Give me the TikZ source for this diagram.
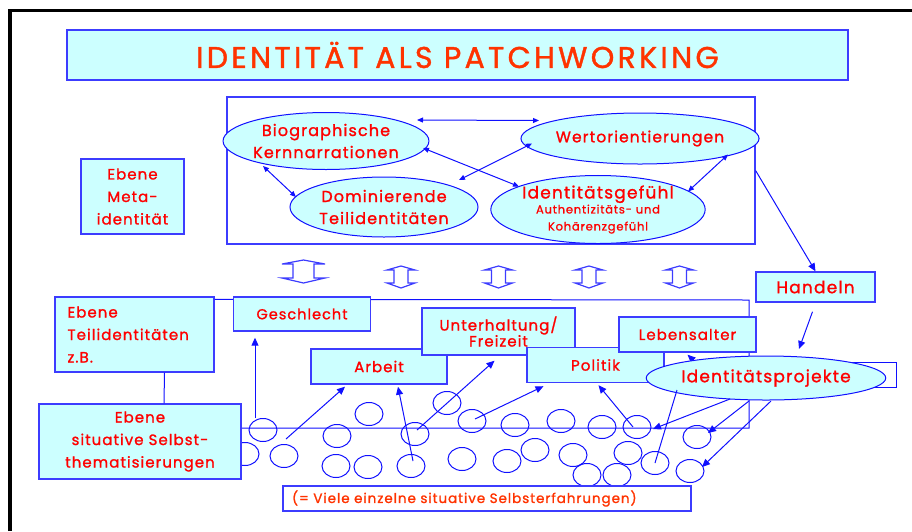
\documentclass[tikz,border=0pt]{standalone}
\usepackage{fontspec}
\setmainfont{Poppins}[LetterSpace=7.0,FakeBold=1.2]
\newfontfamily\titlefont{Poppins}[LetterSpace=11.0,FakeBold=1.2]
\usetikzlibrary{arrows.meta,shapes,calc,positioning}

\definecolor{boxfill}{HTML}{CCFFFF}
\definecolor{lineblue}{HTML}{1010FF}
\definecolor{boxblue}{HTML}{3C3CFF}
\definecolor{txtred}{HTML}{FF0000}
\definecolor{titlered}{HTML}{FF3300}

\begin{document}
\begin{tikzpicture}[x=1pt,y=-1pt,
		>={Triangle[length=8pt,width=7pt]},
		box/.style={draw=boxblue,line width=1.4pt,fill=boxfill,inner sep=0pt,text=txtred,align=center,
			font=\fontsize{15}{22.5}\selectfont},
		oval/.style={ellipse,draw=lineblue,line width=1pt,fill=boxfill,inner sep=0pt,text=txtred,align=center,
			font=\fontsize{16}{22}\selectfont},
		circ/.style={ellipse,draw=lineblue,line width=1pt,minimum width=28pt,minimum height=23pt,inner sep=0pt},
		link/.style={draw=lineblue,line width=1pt},
		twin/.style={<->,>={Triangle[length=6pt,width=5pt]}},
		hollow/.style={draw=boxblue,line width=1.2pt,line join=miter}]
		\useasboundingbox (0,0) rectangle (912,531);
		\draw[line width=3.5pt] (10,531) -- (10,10.5) -- (912,10.5);
		
		\node[box,minimum width=781pt,minimum height=50pt,text=titlered,font=\titlefont\fontsize{30}{30}\selectfont] (title) at (457.5,55) {IDENTITÄT ALS PATCHWORKING};
		
		\node[draw=boxblue,line width=1.2pt,minimum width=528pt,minimum height=147pt] (meta) at (491,170.5) {};
		\node[oval,minimum width=200pt,minimum height=57pt] (bio) at (326,141) {Biographische\\Kernnarrationen};
		\node[oval,minimum width=214pt,minimum height=51pt,font=\fontsize{15.5}{22}\selectfont] (wert) at (640,138.5) {Wertorientierungen};
		\node[oval,minimum width=188pt,minimum height=60pt] (dom) at (384,207) {Dominierende\\Teilidentitäten};
		\node[oval,minimum width=212pt,minimum height=67pt,font=\fontsize{11.5}{16}\selectfont] (gef) at (598,209.5) {{\fontsize{17}{19}\selectfont Identitätsgefühl}\\[-1pt]
			Authentizitäts- und\\[1pt]Kohärenzgefühl};
		\draw[link,twin] ($(bio)+(91,-21)$) -- ($(wert)+(-101,-18)$);
		\draw[link,twin] ($(bio)+(-63,25)$) -- ($(dom)+(-88,-10)$);
		\draw[link,twin] ($(dom)+(75,-27)$) -- ($(wert)+(-108,5)$);
		\draw[link,twin] ($(bio)+(97,7)$) -- ($(gef)+(-79,-23)$);
		\draw[link,twin] ($(wert)+(88,16)$) -- ($(gef)+(90,-18)$);
		
		\node[box,minimum width=103pt,minimum height=75pt] (metalabel) at (132.5,196.5) {Ebene\\Meta-\\identität};
		
		\draw[hollow] (303.5,260) -- (325,264) -- (314,264) -- (314,278) -- (325,278) -- (303.5,283)
			-- (282,278) -- (293,278) -- (293,264) -- (282,264) -- cycle;
		\foreach \x in {401,498.5,589,679.5}
			\draw[hollow] (\x,266) -- (\x+14,270) -- (\x+7,270) -- (\x+7,283) -- (\x+14,283) -- (\x,288)
				-- (\x-14,283) -- (\x-7,283) -- (\x-7,270) -- (\x-14,270) -- cycle;
		
		\node[box,minimum width=119pt,minimum height=30pt,font=\fontsize{17}{20}\selectfont] (handeln) at (815.5,287) {Handeln};
		\draw[link,->] (meta.east) -- (handeln.north);
		
		\node[box,minimum width=159pt,minimum height=75pt,text width=150pt,align=left,inner xsep=0pt] (teil) at (134.5,334.5) {\hspace*{8pt}Ebene\\\hspace*{8pt}Teilidentitäten\\\hspace*{8pt}z.B.};
		\draw[link] ($(teil.north east)+(0,3)$) -- (749,300) -- (749,428) -- (241,428);
		
		\foreach \x/\y [count=\i] in {263/430,245/454,284/456,337/436,369/414,336/466,368/467,415/434,411/466,
			447/403,472/421,462/459,515/425,561/421,602/427,637/427,697/437,535/450,507/461,573/455,
			587/475,617/475,628/453,655/463,690/471}
			\node[circ] (c\i) at (\x,\y) {};
		
		\node[box,minimum width=202pt,minimum height=75pt] (situ) at (140,441.5) {Ebene\\situative Selbst-\\thematisierungen};
		\draw[link] ($(teil.south)+(30,0)$) -- ($(situ.north)+(24,0)$);
		
		\node[box,minimum width=137pt,minimum height=34pt,font=\fontsize{14.5}{22}\selectfont] (gesch) at (302,314) {Geschlecht};
		\node[box,minimum width=136pt,minimum height=35pt] (arbeit) at (379,366.5) {Arbeit};
		\node[box,minimum width=153pt,minimum height=47pt,font=\fontsize{15}{16}\selectfont] (unterh) at (498.5,331.5) {Unterhaltung/\\Freizeit};
		\node[box,minimum width=137pt,minimum height=35pt] (politik) at (595.5,365) {Politik};
		\node[box,minimum width=137pt,minimum height=35pt] (leben) at (687.5,334.5) {Lebensalter};
		
		\draw[link] (700,362) rectangle (896,387);
		\draw[link,->] ($(leben.south)+(18,19)$) -- ($(leben.south)+(0,2)$);
		\node[oval,minimum width=216pt,minimum height=44pt,font=\fontsize{17}{20}\selectfont] (proj) at (766,378) {Identitätsprojekte};
		\draw[link,->] ($(handeln.south)+(-3,9)$) -- ($(proj)+(33,-29)$);
		
		\draw[link,->] ($(c1)+(-8,-12)$) -- ($(gesch.south)+(-47,6)$);
		\draw[link,->] ($(c3)+(2,-17)$) -- ($(arbeit.south)+(-34,2)$);
		\draw[link,->] ($(c9)+(2,-5)$) -- ($(arbeit.south)+(19,2)$);
		\draw[link,->] ($(c8)+(2,-4)$) -- ($(unterh.south)+(-4,5)$);
		\draw[link,->] ($(c11)+(3,-2)$) -- ($(politik.south)+(-52,3)$);
		\draw[link,->] ($(c16)+(-4,0)$) -- ($(politik.south)+(3,2)$);
		\draw[link] ($(proj)+(-89,12)$) -- (c24.center);
		\draw[link,->] ($(proj)+(-36,21)$) -- ($(c16)+(16,2)$);
		\draw[link,->] ($(proj)+(-17,23)$) -- ($(c17)+(11,-4)$);
		\draw[link,->] ($(proj)+(5,23)$) -- ($(c25)+(12,-4)$);
		
		\node[box,fill=white,minimum width=408pt,minimum height=25pt,text width=390pt,align=left,inner xsep=9pt,
			text=titlered,font=\fontsize{13.5}{15}\selectfont] (viele) at (487,498.5) {(= Viele einzelne situative Selbsterfahrungen)};
\end{tikzpicture}
\end{document}
